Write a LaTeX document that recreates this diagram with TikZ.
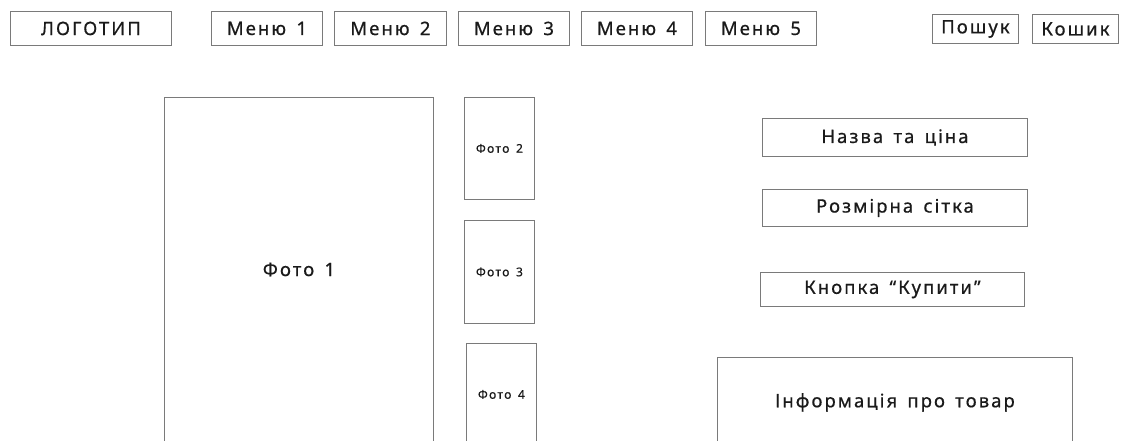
\documentclass[tikz,border=0pt]{standalone}
\usepackage{fontspec}
\setmainfont{Noto Sans}
\newfontfamily\wfont[LetterSpace=11,WordSpace=1.5,FakeBold=0.6]{Noto Sans}
\definecolor{edge}{HTML}{7A7A7A}
\definecolor{ink}{HTML}{1A1A1A}
\tikzset{
  wbox/.style={draw=edge, line width=0.9pt, rectangle, inner sep=0pt, anchor=north west, text=ink, font=\wfont\fontsize{18.5}{22}\selectfont},
  sbox/.style={wbox, font=\wfont\fontsize{12}{14}\selectfont},
}
\begin{document}
\begin{tikzpicture}[x=1pt,y=-1pt]
\useasboundingbox[fill=white] (0,0) rectangle (1122,441);
% top bar
\node[wbox, minimum width=161pt, minimum height=34pt] (logo) at (10,11) {ЛОГОТИП};
\node[wbox, minimum width=111pt, minimum height=34pt] (m1) at (211,11) {Меню 1};
\node[wbox, minimum width=112pt, minimum height=34pt] (m2) at (334,11) {Меню 2};
\node[wbox, minimum width=111pt, minimum height=34pt] (m3) at (458,11) {Меню 3};
\node[wbox, minimum width=111pt, minimum height=34pt] (m4) at (581,11) {Меню 4};
\node[wbox, minimum width=111pt, minimum height=34pt] (m5) at (705,11) {Меню 5};
\node[wbox, minimum width=86pt, minimum height=29pt] (search) at (932,14) {Пошук};
\node[wbox, minimum width=86pt, minimum height=29pt] (cart) at (1032,14) {Кошик};
% photos
\node[wbox, minimum width=269pt, minimum height=344pt] (f1) at (164,97) {Фото 1};
\node[sbox, minimum width=70pt, minimum height=102pt] (f2) at (464,97) {Фото 2};
\node[sbox, minimum width=70pt, minimum height=103pt] (f3) at (464,220) {Фото 3};
\node[sbox, minimum width=70pt, minimum height=102pt] (f4) at (466,343) {Фото 4};
% right column
\node[wbox, minimum width=265pt, minimum height=38pt] (name) at (762,118) {Назва та ціна};
\node[wbox, minimum width=265pt, minimum height=37pt] (size) at (762,189) {Розмірна сітка};
\node[wbox, minimum width=264pt, minimum height=34pt] (buy) at (760,272) {Кнопка “Купити”};
\node[wbox, minimum width=355pt, minimum height=90pt] (info) at (717,357) {Інформація про товар};
\end{tikzpicture}
\end{document}
